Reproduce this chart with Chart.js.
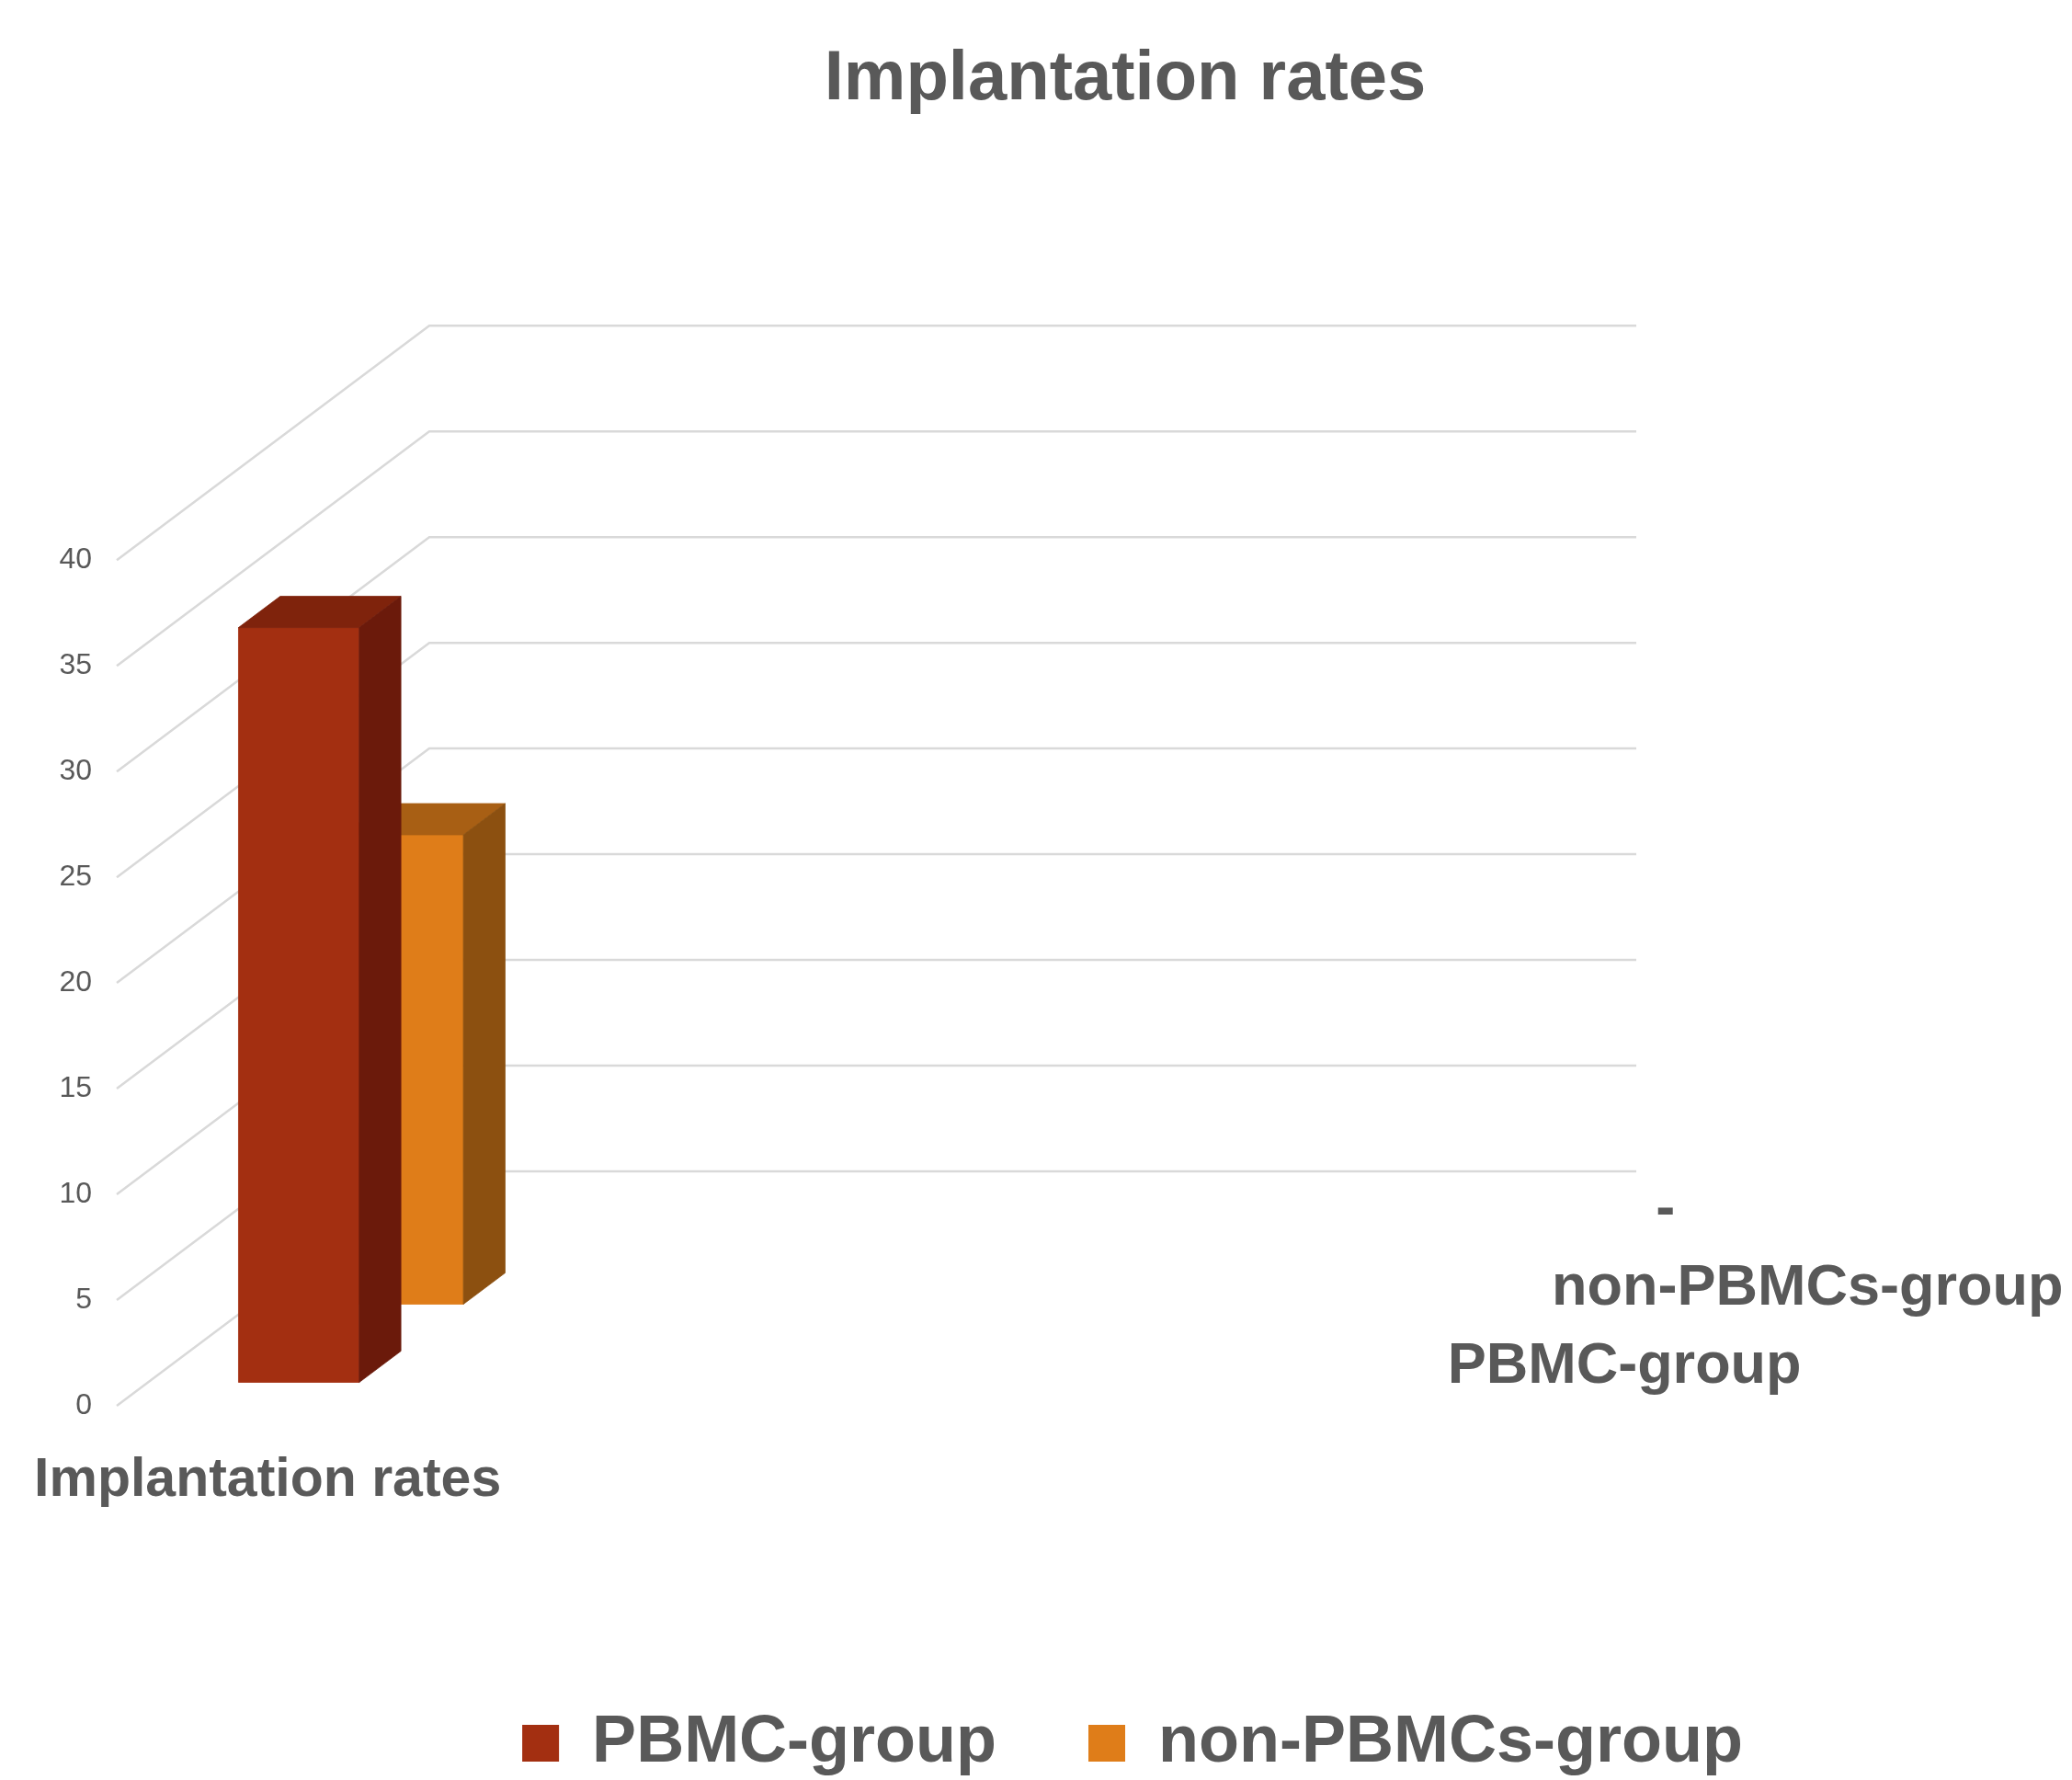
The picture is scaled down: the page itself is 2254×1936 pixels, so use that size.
<!DOCTYPE html>
<html>
<head>
<meta charset="utf-8">
<title>Implantation rates</title>
<style>
  html, body { margin: 0; padding: 0; background: #ffffff; }
  #wrap { width: 2254px; height: 1936px; }
</style>
<script src="https://cdn.jsdelivr.net/npm/chart.js@4.4.1/dist/chart.umd.min.js"></script>
</head>
<body>
<div id="wrap"><canvas id="chart" width="2254" height="1936"></canvas></div>
<script>
// ---- data ----
const categories = ['Implantation rates', '', '', ''];
const seriesNames = ['PBMC-group', 'non-PBMCs-group'];
const pbmcValues = [35.7, null, null, null];
const nonPbmcValues = [22.2, null, null, null];
const depthLabels = ['PBMC-group', 'non-PBMCs-group', '-'];
const yAxisRange = { min: 0, max: 40, step: 5 };

// ---- look ----
const FONT = "'Liberation Sans', Arial, sans-serif";
const TEXT = '#595959';
const GRID = '#D9D9D9';
const DEPTH_DX = 340;      // floor depth of the 3-D box (oblique projection)
const DEPTH_DY = -255;
const BAR_DEPTH = 0.4;     // share of a depth row taken by a column
const TITLE_CENTER_X = 1224;
const LEGEND_CENTER_X = 1232;

function poly(ctx, color, pts) {
  ctx.beginPath();
  ctx.moveTo(pts[0][0], pts[0][1]);
  for (let i = 1; i < pts.length; i++) ctx.lineTo(pts[i][0], pts[i][1]);
  ctx.closePath();
  ctx.fillStyle = color;
  ctx.fill();
  ctx.strokeStyle = color;
  ctx.lineWidth = 0.8;
  ctx.stroke();
}

// Walls, 3-D columns and the depth (series) axis.
const box3d = {
  id: 'box3d',
  afterLayout(chart) {
    const recenter = (box, cx) => {
      if (!box) return;
      const d = cx - (box.left + box.right) / 2;
      box.left += d;
      box.right += d;
    };
    recenter(chart.titleBlock, TITLE_CENTER_X);
    recenter(chart.legend, LEGEND_CENTER_X);
  },
  beforeDatasetsDraw(chart) {
    const { ctx, chartArea: a, scales: { y } } = chart;
    const rows = depthLabels.length;
    ctx.save();

    // side wall and back wall gridlines
    ctx.strokeStyle = GRID;
    ctx.lineWidth = 2.5;
    y.ticks.forEach(t => {
      const py = y.getPixelForValue(t.value);
      ctx.beginPath();
      ctx.moveTo(a.left, py);
      ctx.lineTo(a.left + DEPTH_DX, py + DEPTH_DY);
      ctx.lineTo(a.right + DEPTH_DX, py + DEPTH_DY);
      ctx.stroke();
    });

    // columns, back row first
    for (let s = chart.data.datasets.length - 1; s >= 0; s--) {
      const ds = chart.data.datasets[s];
      const meta = chart.getDatasetMeta(s);
      const f0 = (s + 0.5 - BAR_DEPTH / 2) / rows;
      const f1 = (s + 0.5 + BAR_DEPTH / 2) / rows;
      const ox = f0 * DEPTH_DX, oy = f0 * DEPTH_DY;
      const bx = (f1 - f0) * DEPTH_DX, by = (f1 - f0) * DEPTH_DY;
      meta.data.forEach((el, i) => {
        if (ds.data[i] === null || ds.data[i] === undefined) return;
        const p = el.getProps(['x', 'y', 'base', 'width'], true);
        const L = p.x - p.width / 2 + ox, R = p.x + p.width / 2 + ox;
        const T = p.y + oy, B = p.base + oy;
        poly(ctx, ds.backgroundColor, [[L, T], [R, T], [R, B], [L, B]]);
        poly(ctx, ds.topColor, [[L, T], [R, T], [R + bx, T + by], [L + bx, T + by]]);
        poly(ctx, ds.sideColor, [[R, T], [R + bx, T + by], [R + bx, B + by], [R, B]]);
      });
    }

    // depth axis labels along the right edge of the floor
    ctx.fillStyle = TEXT;
    ctx.font = 'bold 63px ' + FONT;
    ctx.textAlign = 'left';
    ctx.textBaseline = 'middle';
    depthLabels.forEach((lab, s) => {
      const f = (s + 0.5) / rows;
      ctx.fillText(lab, a.right + f * DEPTH_DX + 78, a.bottom + f * DEPTH_DY);
    });

    ctx.restore();
    return false;
  }
};

const LEGEND_PAD = 100;
const LEGEND_FONT = 72;
const BOTTOM_PAD = -6;

new Chart(document.getElementById('chart'), {
  type: 'bar',
  data: {
    labels: categories,
    datasets: [
      {
        label: seriesNames[0], data: pbmcValues,
        backgroundColor: '#A32F11', topColor: '#7F230C', sideColor: '#6B1A0B',
        borderWidth: 0, grouped: false, barPercentage: 0.4, categoryPercentage: 1
      },
      {
        label: seriesNames[1], data: nonPbmcValues,
        backgroundColor: '#DF7D19', topColor: '#A85F14', sideColor: '#8C5010',
        borderWidth: 0, grouped: false, barPercentage: 0.4, categoryPercentage: 1
      }
    ]
  },
  options: {
    responsive: false,
    animation: false,
    devicePixelRatio: 1,
    layout: { padding: { top: 0, left: 0, right: 0, bottom: BOTTOM_PAD } },
    scales: {
      x: {
        grid: { display: false },
        border: { display: false },
        ticks: {
          autoSkip: false, maxRotation: 0, minRotation: 0, padding: 38,
          color: TEXT, font: { family: FONT, size: 59, weight: 'bold' }
        },
        afterFit(scale) {
          // the long category label may spill past the plot edges
          scale.paddingLeft = 0;
          scale.paddingRight = 0;
          scale.height = 407 - BOTTOM_PAD - (LEGEND_FONT + LEGEND_PAD + 10);
        }
      },
      y: {
        min: yAxisRange.min, max: yAxisRange.max,
        grid: { display: false },
        border: { display: false },
        ticks: {
          stepSize: yAxisRange.step, padding: 19,
          color: TEXT, font: { family: FONT, size: 32 }
        },
        afterFit(scale) { scale.width = 127; }
      },
      depthSpace: {
        type: 'linear', position: 'right', display: true,
        grid: { display: false }, border: { display: false },
        ticks: { display: false },
        afterFit(scale) { scale.width = 814; }
      }
    },
    plugins: {
      title: {
        display: true, text: 'Implantation rates', color: TEXT,
        font: { family: FONT, size: 76, weight: 'bold' },
        padding: { top: 41, bottom: 477 }
      },
      legend: {
        position: 'bottom',
        labels: {
          boxWidth: 40, boxHeight: 40, padding: LEGEND_PAD, color: TEXT,
          font: { family: FONT, size: LEGEND_FONT, weight: 'bold' }
        }
      },
      tooltip: { enabled: false }
    }
  },
  plugins: [box3d]
});
</script>
</body>
</html>
